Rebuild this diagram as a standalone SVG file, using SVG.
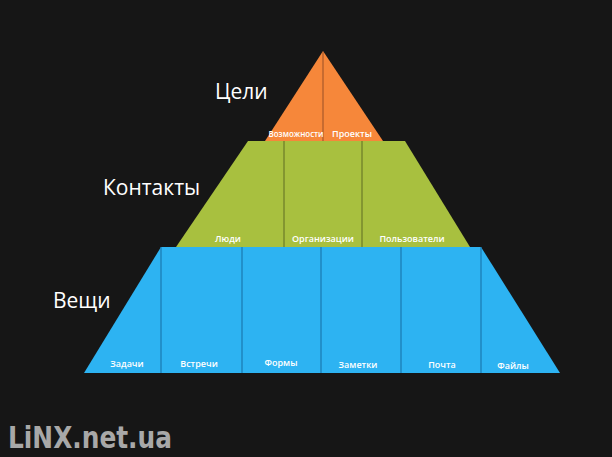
<svg xmlns="http://www.w3.org/2000/svg" width="612" height="457" viewBox="0 0 612 457">
<style>
.lbl{font-family:"Open Sans","Noto Sans","DejaVu Sans",sans-serif;fill:#fff;text-anchor:middle}
.small{font-size:9px;font-weight:600}
.big{font-size:21px;text-anchor:start}
.div{stroke-width:1.2}
</style>
<rect width="612" height="457" fill="#161616"/>
<g id="goals">
<polygon points="323,51 383,141 265,141" fill="#f6873a"/>
<line class="div" x1="323" y1="52" x2="323" y2="141" stroke="#a8592a"/>
<text class="lbl small" x="296" y="137" textLength="55" lengthAdjust="spacingAndGlyphs">Возможности</text>
<text class="lbl small" x="352" y="137">Проекты</text>
</g>
<g id="contacts">
<polygon points="248,141 405,141 470,247 176,247" fill="#a8c03f"/>
<line class="div" x1="284" y1="141" x2="284" y2="247" stroke="#6b7a28"/>
<line class="div" x1="362" y1="141" x2="362" y2="247" stroke="#6b7a28"/>
<text class="lbl small" x="228" y="242">Люди</text>
<text class="lbl small" x="323" y="242">Организации</text>
<text class="lbl small" x="412" y="242">Пользователи</text>
</g>
<g id="things">
<polygon points="161,247 481,247 560,373 84,373" fill="#2db3f2"/>
<g stroke="#1a79b0" class="div">
<line x1="161" y1="247" x2="161" y2="373"/>
<line x1="242" y1="247" x2="242" y2="373"/>
<line x1="321" y1="247" x2="321" y2="373"/>
<line x1="401" y1="247" x2="401" y2="373"/>
<line x1="481" y1="247" x2="481" y2="373"/>
</g>
<text class="lbl small" x="127" y="367">Задачи</text>
<text class="lbl small" x="199" y="367">Встречи</text>
<text class="lbl small" x="281" y="366">Формы</text>
<text class="lbl small" x="358" y="368">Заметки</text>
<text class="lbl small" x="442" y="368">Почта</text>
<text class="lbl small" x="513" y="369">Файлы</text>
</g>
<g id="levels">
<text class="lbl big" x="215" y="99">Цели</text>
<text class="lbl big" x="103" y="195">Контакты</text>
<text class="lbl big" x="53" y="308">Вещи</text>
</g>
<text x="8" y="448" font-family="DejaVu Sans,sans-serif" font-weight="bold" font-size="30" fill="#a8a8a8" textLength="164" lengthAdjust="spacingAndGlyphs">LiNX.net.ua</text>
</svg>
